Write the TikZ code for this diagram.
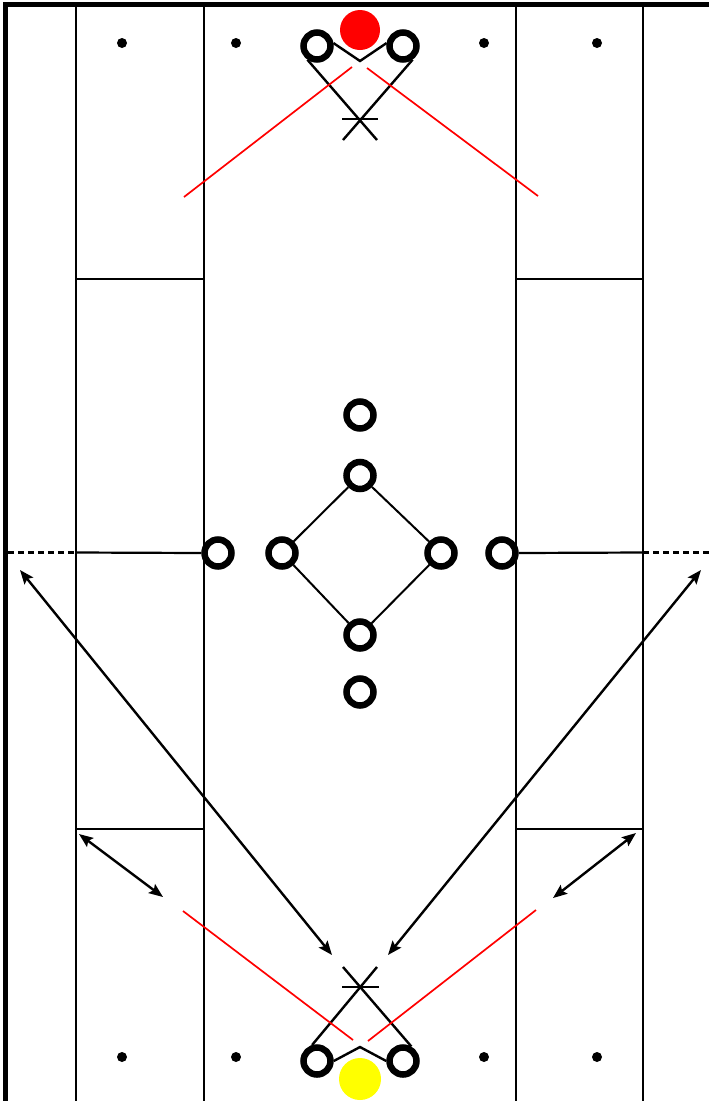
\documentclass[tikz,border=0pt]{standalone}
\usepackage{xcolor}
\usepackage{tikz}
\usetikzlibrary{arrows.meta, positioning}
\definecolor{BallRed}{HTML}{FF0000}
\definecolor{BallYellow}{HTML}{FFFF00}

\begin{document}
\begin{tikzpicture}[x=1pt, y=-1pt,
  cone/.style={draw, circle, line width=6.5pt, minimum size=27pt, inner sep=0pt},
  spot/.style={fill, circle, minimum size=10pt, inner sep=0pt},
  ball/.style={circle, inner sep=0pt},
  field/.style={line width=2.2pt},
  run/.style={{Stealth[length=14pt,width=11pt,inset=2.5pt]}-{Stealth[length=14pt,width=11pt,inset=2.5pt]}, line width=2.4pt},
  pass/.style={draw=BallRed, line width=1.7pt}]
  \useasboundingbox (0,0) rectangle (709,1101);

  % field lines
  \draw[line width=5pt] (5,1101) -- (5,4.5) -- (709,4.5);
  \foreach \x in {76,204,516,643}
    \draw[field] (\x,4.5) -- (\x,1101);
  \foreach \y in {279,829} {
    \draw[field] (76,\y) -- (204,\y);
    \draw[field] (516,\y) -- (643,\y);
  }
  \draw[field, dash pattern=on 6pt off 4pt] (8,552.5) -- (76,552.5);
  \draw[field, dash pattern=on 6pt off 4pt] (643,552.5) -- (709,552.5);

  % spots
  \foreach \x in {122,236,484,597} {
    \node[spot] at (\x,43) {};
    \node[spot] at (\x,1057) {};
  }

  % top group
  \node[ball, fill=BallRed, minimum size=40pt] (redball) at (360,30) {};
  \node[cone] (tl) at (317,46) {};
  \node[cone] (tr) at (403,46) {};
  \coordinate (tv) at (360,61);
  \coordinate (tx) at (360,119);
  \coordinate (txl) at (343,140);
  \coordinate (txr) at (377,140);
  \draw[line width=2.4pt] (tl.10) -- (tv) -- (tr.170);
  \draw[line width=2.4pt] (tl.235) -- (txr);
  \draw[line width=2.4pt] (tr.-55) -- (txl);
  \draw[line width=2.4pt] ([xshift=-18pt]tx) -- ([xshift=18pt]tx);
  \coordinate (tpl) at (184,197);
  \coordinate (tpr) at (538,196);
  \draw[pass] (352,67) -- (tpl);
  \draw[pass] (367,68) -- (tpr);

  % centre diamond
  \node[cone] (c1) at (360,415) {};
  \node[cone] (dn) at (360,475.5) {};
  \node[cone] (dw) at (282,553) {};
  \node[cone] (de) at (441,553) {};
  \node[cone] (ds) at (360,635) {};
  \node[cone] (c2) at (360,692) {};
  \node[cone] (ww) at (218,553) {};
  \node[cone] (we) at (502,553) {};
  \draw[line width=2pt] (dn) -- (dw) -- (ds) -- (de) -- (dn);
  \draw[field] (76,552.5) -- (ww.west);
  \draw[field] (we.east) -- (643,552.5);

  % runs
  \coordinate (rl) at (20,570);
  \coordinate (rr) at (701,570);
  \coordinate (rbl) at (332,955);
  \coordinate (rbr) at (388,955);
  \draw[run] (rl) -- (rbl);
  \draw[run] (rr) -- (rbr);
  \coordinate (sl1) at (79,834);
  \coordinate (sl2) at (163,897);
  \coordinate (sr1) at (636,833);
  \coordinate (sr2) at (553,898);
  \draw[run] (sl1) -- (sl2);
  \draw[run] (sr1) -- (sr2);

  % bottom group
  \node[ball, fill=BallYellow, minimum size=42pt] (yellowball) at (360,1079) {};
  \node[cone] (bl) at (317,1061) {};
  \node[cone] (br) at (403,1061) {};
  \coordinate (bv) at (360,1047);
  \coordinate (bx) at (360,987);
  \coordinate (bxl) at (343,967);
  \coordinate (bxr) at (377,967);
  \draw[line width=2.4pt] (bl.east) -- (bv) -- (br.west);
  \draw[line width=2.4pt] (bl.107) -- (bxr);
  \draw[line width=2.4pt] (br.60) -- (bxl);
  \draw[line width=2.4pt] ([xshift=-18pt]bx) -- ([xshift=19pt]bx);
  \coordinate (bpl) at (183,911);
  \coordinate (bpr) at (536,910);
  \draw[pass] (353,1040) -- (bpl);
  \draw[pass] (368,1041) -- (bpr);
\end{tikzpicture}
\end{document}
